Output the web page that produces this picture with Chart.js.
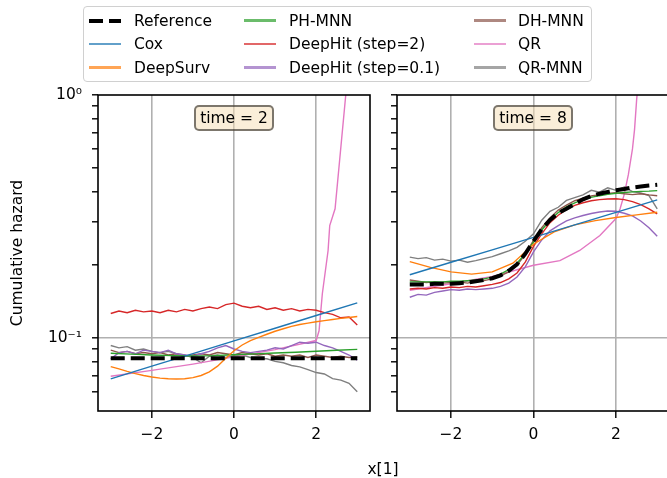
<!DOCTYPE html>
<html>
<head>
<meta charset="utf-8">
<script src="https://cdn.jsdelivr.net/npm/chart.js@4.4.0/dist/chart.umd.min.js"></script>
<style>
body { margin: 0; background: #fff; font-family: 'DejaVu Sans', sans-serif; }
#wrap { position: relative; width: 667px; height: 478px; overflow: hidden; }
canvas { position: absolute; top: 0; }
#left { left: 0; }
#right { left: 380px; }
.box { position: absolute; top: 105px; width: 80px; height: 26px; box-sizing: border-box;
  border: 2px solid rgba(0,0,0,0.5); border-radius: 5px; background: rgba(245,222,179,0.5);
  font-size: 15.5px; line-height: 22px; text-align: center; color: #000; }
#legend { position: absolute; left: 83px; top: 6px; width: 509px; height: 76px; box-sizing: border-box;
  border: 1.5px solid #d0d0d0; border-radius: 4px; background: rgba(255,255,255,0.8); }
.lg-text { position: absolute; font-size: 15.5px; line-height: 20px; white-space: nowrap; color: #000; }
.lg-line { position: absolute; height: 2.5px; }
#xlabel { position: absolute; left: 353px; top: 459px; width: 60px; text-align: center; font-size: 15.5px; line-height: 20px; }
</style>
</head>
<body>
<div id="wrap">
  <canvas id="left" width="380" height="478"></canvas>
  <canvas id="right" width="300" height="478"></canvas>
  <div class="box" style="left:194px">time = 2</div>
  <div class="box" style="left:493px">time = 8</div>
  <div id="legend"></div>
  <div id="xlabel">x[1]</div>
</div>
<script>
// x grids
const xInt = [-3, -2, -1, 0, 1, 2, 3];
const xHalf = [-3, -2.5, -2, -1.5, -1, -0.5, 0, 0.5, 1, 1.5, 2, 2.5, 3];
const xFine = [-3, -2.8, -2.6, -2.4, -2.2, -2, -1.8, -1.6, -1.4, -1.2, -1, -0.8, -0.6, -0.4, -0.2, 0,
  0.2, 0.4, 0.6, 0.8, 1, 1.2, 1.4, 1.6, 1.8, 2, 2.2, 2.4, 2.6, 2.8, 3];

const names = ['Reference', 'Cox', 'DeepSurv', 'PH-MNN', 'DeepHit (step=2)', 'DeepHit (step=0.1)', 'DH-MNN', 'QR', 'QR-MNN'];
const colors = ['#000000', '#1f77b4', '#ff7f0e', '#2ca02c', '#d62728', '#9467bd', '#8c564b', '#e377c2', '#7f7f7f'];

const xTicks = [-2, 0, 2];
const yTicks = [0.06, 0.07, 0.08, 0.09, 0.1, 0.2, 0.3, 0.4, 0.5, 0.6, 0.7, 0.8, 0.9, 1];

// time = 2
const refT2 = [0.0825, 0.0825, 0.0825, 0.0825, 0.0825, 0.0825, 0.0825];
const coxT2 = [0.0678, 0.0765, 0.0862, 0.0972, 0.1096, 0.1236, 0.1394];
const deepSurvT2 = [0.0762, 0.0745, 0.0728, 0.0713, 0.0700, 0.0690, 0.0683, 0.0679, 0.0677, 0.0679, 0.0686,
  0.0700, 0.0725, 0.0765, 0.0825, 0.0885, 0.0935, 0.0975, 0.1005, 0.1035, 0.1065, 0.109, 0.1115, 0.1135,
  0.115, 0.1165, 0.1178, 0.119, 0.1203, 0.1213, 0.1224];
const phMnnT2 = [0.0864, 0.0857, 0.0850, 0.0845, 0.0842, 0.0845, 0.0852, 0.0859, 0.0866, 0.0873, 0.0881, 0.0889, 0.0897];
const deepHit2T2 = [0.126, 0.129, 0.127, 0.130, 0.128, 0.129, 0.127, 0.130, 0.128, 0.131, 0.129, 0.132, 0.134,
  0.132, 0.137, 0.139, 0.135, 0.133, 0.135, 0.131, 0.133, 0.130, 0.132, 0.129, 0.131, 0.130, 0.127, 0.125,
  0.121, 0.122, 0.113];
const deepHit01T2 = [0.082, 0.087, 0.088, 0.086, 0.089, 0.088, 0.087, 0.089, 0.086, 0.085, 0.084, 0.086, 0.088,
  0.091, 0.093, 0.090, 0.088, 0.087, 0.088, 0.089, 0.091, 0.090, 0.093, 0.096, 0.095, 0.096, 0.093, 0.091,
  0.088, 0.085, 0.081];
const dhMnnT2 = [0.089, 0.087, 0.088, 0.086, 0.087, 0.086, 0.087, 0.085, 0.086, 0.084, 0.085, 0.086, 0.085,
  0.087, 0.086, 0.085, 0.087, 0.086, 0.085, 0.086, 0.084, 0.085, 0.084, 0.085, 0.083, 0.085, 0.084, 0.083,
  0.084, 0.083, 0.0835];
const qrT2X = [-3, -2, -1, 0, 1, 2, 2.07, 2.15, 2.29, 2.33, 2.46, 2.72, 2.8];
const qrT2 = [0.0695, 0.0735, 0.078, 0.0835, 0.0895, 0.0975, 0.107, 0.152, 0.229, 0.29, 0.34, 1.0, 1.3];
const qrMnnT2 = [0.093, 0.091, 0.092, 0.089, 0.090, 0.088, 0.087, 0.088, 0.086, 0.085, 0.083, 0.079, 0.084,
  0.085, 0.083, 0.084, 0.085, 0.083, 0.082, 0.082, 0.080, 0.079, 0.077, 0.076, 0.074, 0.072, 0.071, 0.068,
  0.067, 0.065, 0.060];

// time = 8
const refT8 = [0.166, 0.166, 0.166, 0.167, 0.167, 0.167, 0.168, 0.169, 0.171, 0.173, 0.176, 0.181, 0.189,
  0.201, 0.222, 0.25, 0.28, 0.306, 0.327, 0.340, 0.356, 0.372, 0.384, 0.392, 0.399, 0.405, 0.410, 0.416,
  0.420, 0.424, 0.427];
const coxT8 = [0.182, 0.2048, 0.2305, 0.2594, 0.2919, 0.3287, 0.370];
const deepSurvT8 = [0.206, 0.195, 0.187, 0.183, 0.187, 0.203, 0.243, 0.273, 0.292, 0.304, 0.313, 0.321, 0.329];
const phMnnT8 = [0.170, 0.170, 0.170, 0.170, 0.170, 0.171, 0.171, 0.172, 0.173, 0.175, 0.178, 0.183, 0.191,
  0.203, 0.222, 0.248, 0.278, 0.305, 0.328, 0.346, 0.360, 0.371, 0.379, 0.385, 0.390, 0.394, 0.397, 0.399,
  0.401, 0.402, 0.404];
const deepHit2T8 = [0.159, 0.160, 0.159, 0.161, 0.160, 0.162, 0.161, 0.163, 0.162, 0.164, 0.166, 0.169, 0.175,
  0.185, 0.205, 0.238, 0.268, 0.298, 0.320, 0.338, 0.351, 0.360, 0.367, 0.371, 0.373, 0.374, 0.371, 0.364,
  0.354, 0.340, 0.324];
const deepHit01T8 = [0.147, 0.151, 0.150, 0.154, 0.156, 0.158, 0.157, 0.159, 0.158, 0.159, 0.160, 0.163, 0.168,
  0.178, 0.196, 0.226, 0.253, 0.276, 0.290, 0.303, 0.312, 0.319, 0.325, 0.330, 0.333, 0.332, 0.326, 0.318,
  0.303, 0.284, 0.262];
const dhMnnT8 = [0.173, 0.171, 0.169, 0.170, 0.168, 0.169, 0.170, 0.168, 0.171, 0.172, 0.175, 0.180, 0.187,
  0.199, 0.221, 0.252, 0.284, 0.312, 0.336, 0.352, 0.367, 0.376, 0.384, 0.389, 0.393, 0.396, 0.392, 0.389,
  0.392, 0.388, 0.385];
const qrT8X = [-3, -2, -1, 0, 0.64, 1.12, 1.61, 2, 2.1, 2.2, 2.3, 2.4, 2.45, 2.5, 2.55];
const qrT8 = [0.157, 0.167, 0.179, 0.199, 0.208, 0.229, 0.264, 0.31, 0.34, 0.39, 0.47, 0.60, 0.72, 0.95, 1.2];
const qrMnnT8 = [0.215, 0.212, 0.214, 0.209, 0.211, 0.207, 0.209, 0.205, 0.208, 0.212, 0.216, 0.222, 0.228,
  0.236, 0.250, 0.268, 0.305, 0.332, 0.345, 0.368, 0.378, 0.388, 0.405, 0.398, 0.415, 0.405, 0.418, 0.400,
  0.395, 0.385, 0.340];

function pts(xs, ys) {
  return xs.map((x, i) => ({ x: x, y: ys[i] }));
}

function sets(list) {
  return list.map((s, i) => ({
    label: names[i],
    data: pts(s[0], s[1]),
    borderColor: colors[i],
    borderWidth: i === 0 ? 4 : 1.4,
    borderDash: i === 0 ? [14, 6] : [],
    pointRadius: 0,
    fill: false
  }));
}

const frame = {
  id: 'frame',
  afterDatasetsDraw(chart) {
    const a = chart.chartArea, ctx = chart.ctx;
    ctx.save();
    ctx.strokeStyle = '#000';
    ctx.lineWidth = 1.6;
    ctx.strokeRect(a.left, a.top, a.right - a.left, a.bottom - a.top);
    ctx.restore();
  }
};

const font = { family: 'DejaVu Sans', size: 15.5 };

function makeChart(id, datasets, yWidth, withLabels) {
  return new Chart(document.getElementById(id), {
    type: 'line',
    data: { datasets: datasets },
    options: {
      responsive: false,
      animation: false,
      layout: { padding: { top: 95, right: 10, left: 0, bottom: 0 } },
      plugins: { legend: { display: false }, tooltip: { enabled: false } },
      scales: {
        x: {
          type: 'linear', min: -3.31, max: 3.31,
          afterBuildTicks: s => { s.ticks = xTicks.map(v => ({ value: v })); },
          afterFit: s => { s.height = 67; },
          border: { display: false },
          grid: { color: '#b0b0b0', lineWidth: 1.6, tickColor: '#000', tickLength: 7, tickWidth: 1.4 },
          ticks: { color: '#000', font: font, padding: 8, maxRotation: 0, autoSkip: false,
            callback: v => v < 0 ? '\u2212' + (-v) : String(v) }
        },
        y: {
          type: 'logarithmic', min: 0.05, max: 1,
          afterBuildTicks: s => { s.ticks = yTicks.map(v => ({ value: v })); },
          afterFit: s => { s.width = yWidth; },
          border: { display: false },
          grid: {
            color: c => (c.tick && c.tick.value === 0.1) ? '#b0b0b0' : 'rgba(0,0,0,0)',
            lineWidth: 1.6, tickColor: '#000', tickLength: 6, tickWidth: 1.4
          },
          ticks: { color: '#000', font: font, padding: 10, autoSkip: false,
            callback: v => !withLabels ? '' : (v === 1 ? '10\u2070' : (v === 0.1 ? '10\u207b\u00b9' : '')) },
          title: { display: withLabels, text: 'Cumulative hazard', color: '#000', font: font, padding: { top: 9, bottom: 0 } }
        }
      }
    },
    plugins: [frame]
  });
}

makeChart('left', sets([
  [xInt, refT2], [xInt, coxT2], [xFine, deepSurvT2], [xHalf, phMnnT2], [xFine, deepHit2T2],
  [xFine, deepHit01T2], [xFine, dhMnnT2], [qrT2X, qrT2], [xFine, qrMnnT2]
]), 98, true);

makeChart('right', sets([
  [xFine, refT8], [xInt, coxT8], [xHalf, deepSurvT8], [xFine, phMnnT8], [xFine, deepHit2T8],
  [xFine, deepHit01T8], [xFine, dhMnnT8], [qrT8X, qrT8], [xFine, qrMnnT8]
]), 17, false);

// legend, 3 columns filled top to bottom
const legend = document.getElementById('legend');
const lineX = [88, 243, 473];
const textX = [133, 288, 517];
const rowY = [19.5, 43, 66.5];
names.forEach((n, i) => {
  const col = Math.floor(i / 3), row = i % 3;
  const cy = rowY[row] - 6;
  const lx = lineX[col] - 83;
  if (i === 0) {
    [[0, 14], [20, 12]].forEach(d => {
      const seg = document.createElement('div');
      seg.className = 'lg-line';
      seg.style.cssText = `left:${lx + d[0]}px;top:${cy - 2}px;width:${d[1]}px;height:4px;background:#000`;
      legend.appendChild(seg);
    });
  } else {
    const ln = document.createElement('div');
    ln.className = 'lg-line';
    ln.style.cssText = `left:${lx}px;top:${cy - 1.25}px;width:32px;background:${colors[i]};opacity:0.7`;
    legend.appendChild(ln);
  }
  const t = document.createElement('div');
  t.className = 'lg-text';
  t.style.left = (textX[col] - 83) + 'px';
  t.style.top = (cy - 10) + 'px';
  t.textContent = n;
  legend.appendChild(t);
});
</script>
</body>
</html>
